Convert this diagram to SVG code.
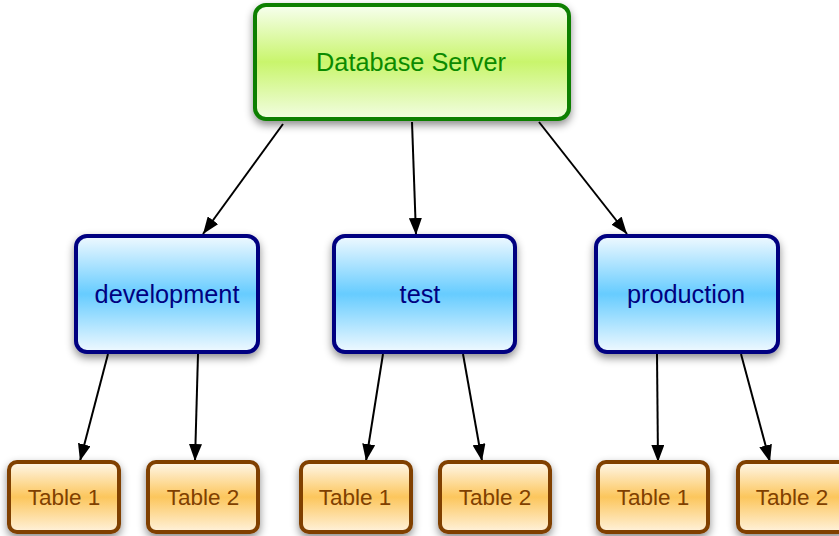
<svg xmlns="http://www.w3.org/2000/svg" width="839" height="536" viewBox="0 0 839 536">
<defs>
<linearGradient id="gG" x1="0" y1="0" x2="0" y2="1">
<stop offset="0" stop-color="#f7fff0"/>
<stop offset="0.5" stop-color="#c9f56c"/>
<stop offset="1" stop-color="#f2fde2"/>
</linearGradient>
<linearGradient id="gB" x1="0" y1="0" x2="0" y2="1">
<stop offset="0" stop-color="#f0f9ff"/>
<stop offset="0.5" stop-color="#66ccff"/>
<stop offset="1" stop-color="#f0f9ff"/>
</linearGradient>
<linearGradient id="gO" x1="0" y1="0" x2="0" y2="1">
<stop offset="0" stop-color="#fff8ec"/>
<stop offset="0.5" stop-color="#fcc65c"/>
<stop offset="1" stop-color="#fff2dc"/>
</linearGradient>
<filter id="sh" x="-20%" y="-20%" width="140%" height="150%">
<feDropShadow dx="0" dy="4" stdDeviation="4" flood-color="#000" flood-opacity="0.45"/>
</filter>
<marker id="ah" viewBox="0 0 17 13" refX="17" refY="6.5" markerWidth="17" markerHeight="13" markerUnits="userSpaceOnUse" orient="auto">
<path d="M0,0 L17,6.5 L0,13 Z" fill="#000"/>
</marker>
<style>
text{font-family:"Liberation Sans",Arial,sans-serif;text-anchor:middle;dominant-baseline:central}
.g rect{fill:url(#gG);stroke:#0a7f00;stroke-width:4;filter:url(#sh)}
.g text{fill:#0b8a00;font-size:25.3px}
.b rect{fill:url(#gB);stroke:#000080;stroke-width:4;filter:url(#sh)}
.b text{fill:#000080;font-size:25.3px}
.o rect{fill:url(#gO);stroke:#804000;stroke-width:4;filter:url(#sh)}
.o text{fill:#804000;font-size:22.5px}
#connectors line{stroke:#000;stroke-width:2;marker-end:url(#ah)}
</style>
</defs>
<rect width="839" height="536" fill="#fff"/>
<g id="connectors">
<line x1="283" y1="124" x2="203" y2="234"/>
<line x1="412" y1="122" x2="416" y2="235"/>
<line x1="539" y1="122" x2="627" y2="234"/>
<line x1="108" y1="354" x2="80" y2="461"/>
<line x1="198" y1="354" x2="195" y2="461"/>
<line x1="383" y1="354" x2="366" y2="461"/>
<line x1="463" y1="354" x2="482" y2="461"/>
<line x1="657" y1="354" x2="658" y2="462"/>
<line x1="741" y1="354" x2="770" y2="462"/>
</g>
<g id="db" class="g"><rect x="255" y="5" width="314" height="114" rx="11"/><text x="411" y="62">Database Server</text></g>
<g id="development" class="b"><rect x="76" y="236" width="182" height="116" rx="11"/><text x="167" y="294">development</text></g>
<g id="test" class="b"><rect x="334" y="236" width="181" height="116" rx="11"/><text x="420" y="294">test</text></g>
<g id="production" class="b"><rect x="596" y="236" width="182" height="116" rx="11"/><text x="686" y="294">production</text></g>
<g id="dev-t1" class="o"><rect x="9" y="462" width="110" height="70" rx="8"/><text x="64" y="497">Table 1</text></g>
<g id="dev-t2" class="o"><rect x="148" y="462" width="110" height="70" rx="8"/><text x="203" y="497">Table 2</text></g>
<g id="test-t1" class="o"><rect x="301" y="462" width="110" height="70" rx="8"/><text x="355" y="497">Table 1</text></g>
<g id="test-t2" class="o"><rect x="440" y="462" width="110" height="70" rx="8"/><text x="495" y="497">Table 2</text></g>
<g id="prod-t1" class="o"><rect x="598" y="462" width="110" height="70" rx="8"/><text x="653" y="497">Table 1</text></g>
<g id="prod-t2" class="o"><rect x="738" y="462" width="110" height="70" rx="8"/><text x="792" y="497">Table 2</text></g>
</svg>
